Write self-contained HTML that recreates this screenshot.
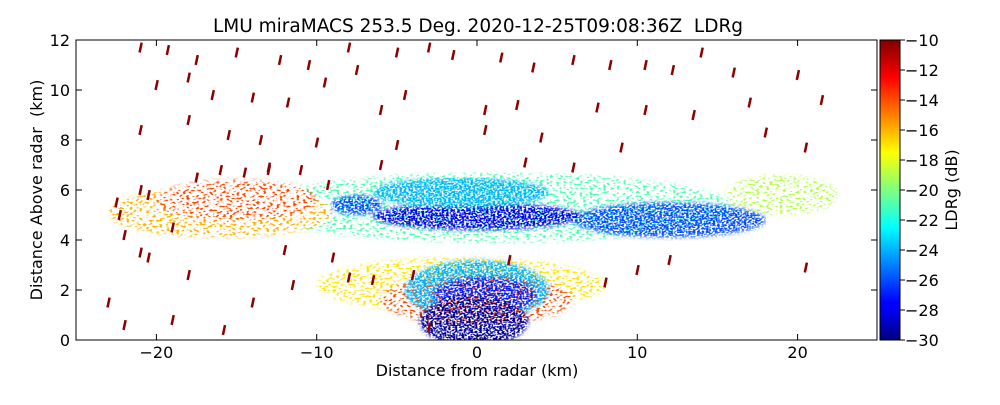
<!DOCTYPE html>
<html><head><meta charset="utf-8"><style>
body{margin:0;background:#fff;width:1000px;height:400px;overflow:hidden}
text{font-family:"DejaVu Sans","Liberation Sans",sans-serif;fill:#000}
</style></head><body>
<svg id="c" width="1000" height="400" xmlns="http://www.w3.org/2000/svg">
<defs>
<linearGradient id="jet" x1="0" y1="1" x2="0" y2="0">
<stop offset="0" stop-color="#00007f"/><stop offset="0.11" stop-color="#0000ff"/>
<stop offset="0.125" stop-color="#0000ff"/><stop offset="0.375" stop-color="#00ffff"/>
<stop offset="0.5" stop-color="#7fff7f"/><stop offset="0.625" stop-color="#ffff00"/>
<stop offset="0.875" stop-color="#ff0000"/><stop offset="1" stop-color="#7f0000"/>
</linearGradient>
<filter id="soft"><feGaussianBlur stdDeviation="2"/></filter>
<filter id="speck" x="0" y="0" width="100%" height="100%">
<feTurbulence type="fractalNoise" baseFrequency="0.45 0.6" numOctaves="1" seed="4" result="n"/>
<feColorMatrix in="n" type="matrix" values="0 0 0 0 0  0 0 0 0 0  0 0 0 0 0  6 0 0 0 -2.4" result="m"/>
<feComposite in="SourceGraphic" in2="m" operator="in"/>
</filter>
<filter id="sparse" x="0" y="0" width="100%" height="100%">
<feTurbulence type="fractalNoise" baseFrequency="0.3 0.5" numOctaves="1" seed="9" result="n"/>
<feColorMatrix in="n" type="matrix" values="0 0 0 0 0  0 0 0 0 0  0 0 0 0 0  8 0 0 0 -4.2" result="m"/>
<feComposite in="SourceGraphic" in2="m" operator="in"/>
</filter>
<clipPath id="plotclip"><rect x="76" y="40" width="801" height="300"/></clipPath>
</defs>
<text x="478" y="32" font-size="18.5" text-anchor="middle">LMU miraMACS 253.5 Deg. 2020-12-25T09:08:36Z&#160; LDRg</text>
<g clip-path="url(#plotclip)"><g id="plotS" filter="url(#sparse)"></g><g id="plot" filter="url(#speck)"></g><g id="plot2"></g></g>
<g id="axes"></g>
<rect x="880" y="40" width="20" height="300" fill="url(#jet)" stroke="#000"/>
<text x="477" y="376" font-size="16" text-anchor="middle">Distance from radar (km)</text>
<text transform="translate(42,190) rotate(-90)" font-size="16" text-anchor="middle">Distance Above radar&#160; (km)</text>
<text transform="translate(957,190) rotate(-90)" font-size="16" text-anchor="middle">LDRg (dB)</text>
</svg>
<script>
const xTicks=[-20,-10,0,10,20];
const yTicks=[0,2,4,6,8,10,12];
const cbTicks=[-10,-12,-14,-16,-18,-20,-22,-24,-26,-28,-30];
// sparse blobs: x km, y km, rx km, ry km, LDR dB
const sparseX=[1,-16,19,-1,-15,0];
const sparseY=[5.3,5.1,5.8,2.2,5.6,1.6];
const sparseRX=[15,7,3.5,9,5,6];
const sparseRY=[1.4,1.0,0.8,1.1,0.8,1.0];
const sparseLDR=[-21,-16,-19,-17,-14,-14];
// dense blobs
const blobX=[12,-7.5,0,0,-1,0.5,-0.2];
const blobY=[4.8,5.4,4.95,2.0,5.9,1.8,0.75];
const blobRX=[6,1.6,6.5,4.5,5.5,3.2,3.4];
const blobRY=[0.7,0.4,0.55,1.2,0.6,0.7,1.0];
const blobLDR=[-26,-26,-28,-24,-24,-27,-29.5];
// dark red streaks (x km, y km)
const strX=[-21,-19.3,-17.5,-15,-12.3,-10.5,-8,-7.5,-5,-3,-1.5,1.5,3.5,6,8.3,10.5,12.2,14,16,20,21.5,-20,-18,-16.5,-14,-11.8,-9.5,-6,-4.5,0.5,2.5,7.5,10.5,13.5,17,-21,-18,-15.5,-13.5,-10,-5,0.5,4,9,18,20.5,-22.5,-23,-22,-19,-15.8,-14,-11.5,-9,-20.5,-18,15.5,17.5,20.5,18,12,10,-22,-21,-13,-6,3,6,-8,8,-3,2,-21,-20.5,-17.5,-16,-13,-11,-9.3,-14.5,-6.5,-4,-12,-19,-22.3];
const strY=[11.7,11.6,11.2,11.5,11.2,11,11.7,10.8,11.5,11.7,11.4,11.3,10.9,11.2,11,11,10.8,11.5,10.7,10.6,9.6,10.2,10.5,9.8,9.7,9.5,10.3,9.2,9.8,9.2,9.4,9.3,9.2,9.0,9.5,8.4,8.8,8.2,8.0,7.9,7.8,8.4,8.1,7.7,8.3,7.7,5.5,1.5,0.6,0.8,0.4,1.5,2.2,3.3,3.3,2.6,1.8,2.0,2.9,1.2,3.2,2.8,4.2,3.5,6.8,7.0,7.1,6.9,2.5,2.3,0.5,3.2,6.0,5.8,6.5,6.8,6.9,6.8,6.2,6.7,2.4,2.6,3.6,4.5,5.0];

const X=v=>477+v*16.03, Y=v=>340-v*25;
const ldrT=v=>(v+30)/20;
function jet(t){t=Math.max(0,Math.min(1,t));
 const r=Math.max(0,Math.min(1,1.5-Math.abs(4*t-3))),g=Math.max(0,Math.min(1,1.5-Math.abs(4*t-2))),b=Math.max(0,Math.min(1,1.5-Math.abs(4*t-1)));
 return `rgb(${Math.round(r*255)},${Math.round(g*255)},${Math.round(b*255)})`;}
const NS='http://www.w3.org/2000/svg';
const plotS=document.getElementById('plotS'),plot=document.getElementById('plot'),plot2=document.getElementById('plot2'),axes=document.getElementById('axes');
function mk(tag,at,parent){const e=document.createElementNS(NS,tag);for(const k in at)e.setAttribute(k,at[k]);parent.appendChild(e);return e;}
sparseX.forEach((bx,i)=>{
 const e=mk('ellipse',{cx:X(bx),cy:Y(sparseY[i]),rx:sparseRX[i]*16.03,ry:sparseRY[i]*25,fill:jet(ldrT(sparseLDR[i])),filter:'url(#soft)'},plotS);
 
 
});
blobX.forEach((bx,i)=>{
 const e=mk('ellipse',{cx:X(bx),cy:Y(blobY[i]),rx:blobRX[i]*16.03,ry:blobRY[i]*25,fill:jet(ldrT(blobLDR[i])),filter:'url(#soft)'},plot);
 
 
});
strX.forEach((sx,i)=>{
 const e=mk('rect',{x:X(sx)-1,y:Y(strY[i])-5,width:2.5,height:10,fill:'#8b0000',transform:`rotate(12 ${X(sx)} ${Y(strY[i])})`},plot2);
 
 
});
// cut-off wedge below lower-right
mk('polygon',{points:`${X(3.5)},341 ${X(12)},${Y(2.4)} ${X(26)},${Y(2.4)} ${X(26)},341`,fill:'#fff'},plot2);
const fr=mk('rect',{x:76,y:40,width:801,height:300,fill:'none',stroke:'#000'},axes);


xTicks.forEach(v=>{
 mk('line',{x1:X(v),x2:X(v),y1:340,y2:334,stroke:'#000'},axes);
 mk('line',{x1:X(v),x2:X(v),y1:40,y2:46,stroke:'#000'},axes);
 const t=mk('text',{x:X(v),y:358,'font-size':16,'text-anchor':'middle'},axes);
 t.textContent=(v<0?'\u2212'+(-v):v);
 
 
});
yTicks.forEach(v=>{
 mk('line',{x1:76,x2:82,y1:Y(v),y2:Y(v),stroke:'#000'},axes);
 mk('line',{x1:877,x2:871,y1:Y(v),y2:Y(v),stroke:'#000'},axes);
 const t=mk('text',{x:70,y:Y(v)+6,'font-size':16,'text-anchor':'end'},axes);
 t.textContent=v;
 
 
});
cbTicks.forEach(v=>{
 const yy=40+300*(1-ldrT(v));
 mk('line',{x1:900,x2:905,y1:yy,y2:yy,stroke:'#000'},axes);
 mk('line',{x1:880,x2:884,y1:yy,y2:yy,stroke:'#000'},axes);
 const t=mk('text',{x:905,y:yy+6,'font-size':16},axes);
 t.textContent='\u2212'+(-v);
 
 
});
</script>
</body></html>
